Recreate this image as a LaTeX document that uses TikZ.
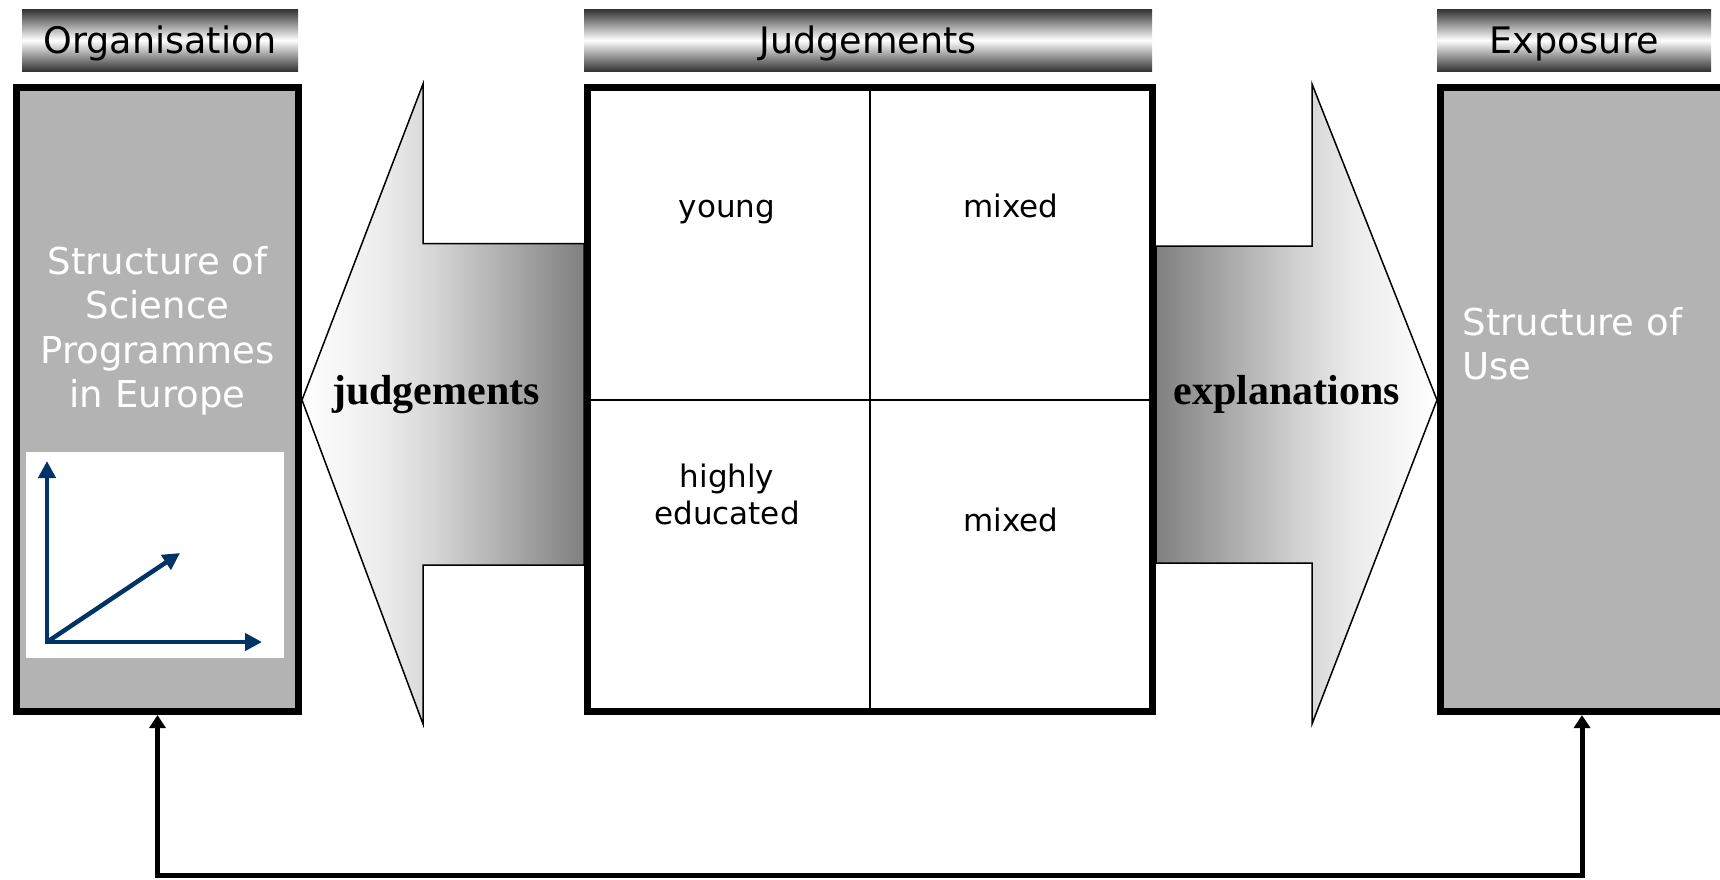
\documentclass[tikz,border=0pt]{standalone}
\usepackage{fontspec}
\setmainfont{DejaVu Sans}
\newfontfamily\timesfont{Liberation Serif}
\usetikzlibrary{arrows.meta}
\definecolor{navy}{HTML}{003366}
\definecolor{panelgray}{HTML}{B3B3B3}
\begin{document}
\pgfdeclarehorizontalshading{leftarrowshade}{100bp}{color(0bp)=(white); color(25bp)=(white); color(40bp)=(black!8); color(50bp)=(black!18); color(62.5bp)=(black!34); color(75bp)=(black!50); color(100bp)=(black!50)}
\pgfdeclarehorizontalshading{rightarrowshade}{100bp}{color(0bp)=(black!50); color(25bp)=(black!50); color(37.5bp)=(black!34); color(50bp)=(black!18); color(60bp)=(black!8); color(75bp)=(white); color(100bp)=(white)}
\begin{tikzpicture}[x=1pt,y=-1pt,
  header/.style={top color=black!80, bottom color=black!80, middle color=white,
    minimum height=62, inner sep=0, text height=26.6, text depth=0,
    font=\fontsize{36.5}{44}\selectfont, anchor=north west},
  panel/.style={draw=black, line width=7, fill=panelgray, minimum height=624,
    inner sep=0, anchor=north west},
  divider/.style={draw=black, line width=2},
  bigarrow/.style={draw=black, line width=1.5},
  arrowlabel/.style={font=\timesfont\bfseries\fontsize{42}{48}\selectfont, anchor=base},
  celltext/.style={font=\fontsize{31}{37}\selectfont, align=center, anchor=base},
  whitetext/.style={font=\fontsize{37}{44.5}\selectfont, text=white, anchor=base},
  axisline/.style={draw=navy, line width=4.5, -{Triangle[length=17,width=17]}},
  feedback/.style={draw=black, line width=5, {Triangle[length=13,width=16]}-{Triangle[length=13,width=16]}}
]
\useasboundingbox (0,0) rectangle (1720,879);
\clip (0,0) rectangle (1720,879);

% headers
\node[header, minimum width=276] (orghead) at (22,9) {Organisation};
\node[header, minimum width=568] (judghead) at (584,9) {Judgements};
\node[header, minimum width=274] (exphead) at (1437,9) {Exposure};

% big shaded arrows
\path[bigarrow, shading=leftarrowshade]
  (302,400) -- (423,84) -- (423,243.5) -- (584,243.5) -- (584,565) -- (423,565) -- (423,724) -- cycle;
\path[bigarrow, shading=rightarrowshade]
  (1437,400) -- (1312,84) -- (1312,246) -- (1156,246) -- (1156,563) -- (1312,563) -- (1312,724) -- cycle;

% panels
\node[panel, minimum width=282] (orgbox) at (13,84) {};
\node[panel, fill=white, minimum width=565] (judgebox) at (584,84) {};
\node[panel, minimum width=320] (expbox) at (1437,84) {};

\draw[divider] (judgebox.north) -- (judgebox.south);
\draw[divider] (judgebox.west) -- (judgebox.east);

% arrow labels
\node[arrowlabel] (judglabel) at (436,404) {judgements};
\node[arrowlabel] (explabel) at (1287,404) {explanations};

% cell texts
\node[celltext] (young) at (727,217) {young};
\node[celltext] (mixedA) at (1011,217) {mixed};
\node[celltext] (highly) at (727,524) {highly\\educated};
\node[celltext] (mixedB) at (1011,531) {mixed};

% left panel content
\node[whitetext, align=center] (orgtext) at (157.5,407.5) {Structure of\\Science\\Programmes\\in Europe};
\node[fill=white, minimum width=258, minimum height=206, inner sep=0, anchor=north west] (chart) at (26,452) {};
\coordinate (ax0) at (47,642);
\coordinate (axY) at (47,461);
\coordinate (axX) at (262,642);
\coordinate (axD) at (180,553);
\draw[axisline] (ax0) -- (axD);
\draw[axisline] ([yshift=2.25]ax0) -- (axY);
\draw[axisline] ([xshift=-2.25]ax0) -- (axX);

% right panel content
\node[whitetext, align=left, anchor=base west] (exptext) at (1459,379.5) {Structure of\\Use};

% feedback connector
\coordinate (loopR) at (1582,875.5);
\draw[feedback] (orgbox.south) -- (orgbox.south |- loopR) -- (loopR) -- (loopR |- expbox.south);
\end{tikzpicture}
\end{document}
